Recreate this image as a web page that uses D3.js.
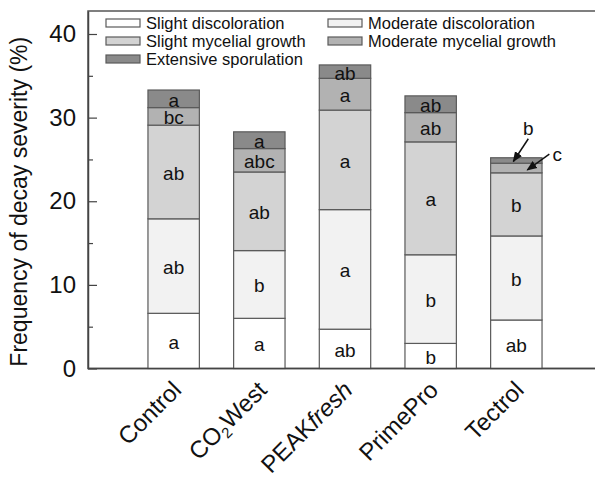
<!DOCTYPE html>
<html>
<head>
<meta charset="utf-8">
<script src="https://cdn.jsdelivr.net/npm/d3@7"></script>
<style>
  html, body { margin: 0; padding: 0; background: #fff; }
  svg { display: block; font-family: "Liberation Sans", Arial, sans-serif; }
</style>
</head>
<body>
<svg id="chart" width="595" height="477"></svg>
<script>
// ---- data ----
const categories = ["Control", "CO2West", "PEAKfresh", "PrimePro", "Tectrol"];
const seriesNames = ["Slight discoloration", "Moderate discoloration", "Slight mycelial growth", "Moderate mycelial growth", "Extensive sporulation"];
const slightDiscoloration   = [6.6, 6.0, 4.7, 3.0, 5.8];
const moderateDiscoloration = [11.3, 8.1, 14.3, 10.6, 10.05];
const slightMycelial        = [11.2, 9.4, 11.9, 13.5, 7.55];
const moderateMycelial      = [2.1, 2.8, 3.8, 3.5, 1.15];
const extensiveSporulation  = [2.1, 2.0, 1.6, 2.0, 0.65];
const letters = [
  ["a", "ab", "ab", "bc", "a"],
  ["a", "b", "ab", "abc", "a"],
  ["ab", "a", "a", "a", "ab"],
  ["b", "b", "a", "ab", "ab"],
  ["ab", "b", "b", "", ""]
];
const yTicks = [0, 10, 20, 30, 40];
const yMinorTicks = [5, 15, 25, 35];
const fills = ["#ffffff", "#f2f2f2", "#d3d3d3", "#b2b2b2", "#8a8a8a"];

const series = [slightDiscoloration, moderateDiscoloration, slightMycelial, moderateMycelial, extensiveSporulation];

const svg = d3.select("#chart");
const pL = 88, pT = 11, pB = 368.5, pR = 602;

const x = d3.scaleLinear().domain([0, categories.length + 1]).range([pL, pR]);
const y = d3.scaleLinear().domain([0, 42.75]).range([pB, pT]);
const barW = (x(1) - x(0)) * 0.6;

// frame
svg.append("rect").attr("x", pL).attr("y", pT).attr("width", pR - pL).attr("height", pB - pT)
  .attr("fill", "none").attr("stroke", "#555").attr("stroke-width", 1.5);

// stacked bars
const stackData = categories.map((c, i) => {
  const o = { cat: c, i: i };
  seriesNames.forEach((s, k) => { o[s] = series[k][i]; });
  return o;
});
const stacked = d3.stack().keys(seriesNames)(stackData);

const g = svg.append("g");
stacked.forEach((layer, k) => {
  g.selectAll(null).data(layer).enter().append("rect")
    .attr("x", d => x(d.data.i + 1) - barW / 2)
    .attr("width", barW)
    .attr("y", d => y(d[1]))
    .attr("height", d => y(d[0]) - y(d[1]))
    .attr("fill", fills[k])
    .attr("stroke", "#5a5a5a")
    .attr("stroke-width", 1.2);
});
stacked.forEach((layer, k) => {
  g.selectAll(null).data(layer).enter().append("text")
    .attr("x", d => x(d.data.i + 1))
    .attr("y", d => (y(d[0]) + y(d[1])) / 2 + 1.5)
    .attr("text-anchor", "middle")
    .attr("dominant-baseline", "central")
    .attr("font-size", 19)
    .attr("fill", "#111")
    .text(d => letters[d.data.i][k]);
});

// Tectrol annotations with arrows
const defs = svg.append("defs");
defs.append("marker").attr("id", "arr").attr("viewBox", "0 0 10 10").attr("refX", 9).attr("refY", 5)
  .attr("markerWidth", 7).attr("markerHeight", 7).attr("orient", "auto")
  .append("path").attr("d", "M0,1 L10,5 L0,9 Z").attr("fill", "#111");
const ti = 4;
const tx = x(ti + 1);
const topSpor = stacked[4][ti], topMod = stacked[3][ti];
svg.append("text").attr("x", tx + 12).attr("y", y(topSpor[1]) - 29).attr("text-anchor", "middle")
  .attr("dominant-baseline", "central").attr("font-size", 19).attr("fill", "#111").text("b");
svg.append("line").attr("x1", tx + 12).attr("y1", y(topSpor[1]) - 19)
  .attr("x2", tx - 3).attr("y2", (y(topSpor[0]) + y(topSpor[1])) / 2 + 1)
  .attr("stroke", "#111").attr("stroke-width", 1.5).attr("marker-end", "url(#arr)");
svg.append("text").attr("x", tx + 41).attr("y", y(topMod[1]) - 9).attr("text-anchor", "middle")
  .attr("dominant-baseline", "central").attr("font-size", 19).attr("fill", "#111").text("c");
svg.append("line").attr("x1", tx + 33).attr("y1", y(topMod[1]) - 9)
  .attr("x2", tx + 11).attr("y2", (y(topMod[0]) + y(topMod[1])) / 2 + 2)
  .attr("stroke", "#111").attr("stroke-width", 1.5).attr("marker-end", "url(#arr)");

// y axis ticks (inside)
const yAxis = d3.axisLeft(y).tickValues(yTicks).tickSizeInner(-9).tickSizeOuter(0).tickPadding(12).tickFormat(d3.format("d"));
const ya = svg.append("g").attr("transform", `translate(${pL},0)`).call(yAxis);
ya.select(".domain").attr("stroke", "#444").attr("stroke-width", 1.5);
ya.selectAll(".tick line").attr("stroke", "#444").attr("stroke-width", 1.2);
ya.selectAll(".tick text").attr("font-size", 24).attr("fill", "#111")
  .attr("font-family", "Liberation Sans, Arial, sans-serif");
const yMinor = d3.axisLeft(y).tickValues(yMinorTicks).tickSizeInner(-5).tickSizeOuter(0).tickFormat("");
const ym = svg.append("g").attr("transform", `translate(${pL},0)`).call(yMinor);
ym.select(".domain").remove();
ym.selectAll(".tick line").attr("stroke", "#444").attr("stroke-width", 1.2);

// x axis line
svg.append("line").attr("x1", pL).attr("x2", pR).attr("y1", pB).attr("y2", pB)
  .attr("stroke", "#444").attr("stroke-width", 1.5);

// x labels rotated
categories.forEach((c, i) => {
  const t = svg.append("text")
    .attr("transform", `translate(${x(i + 1) + 9},${pB + 23}) rotate(-45)`)
    .attr("text-anchor", "end").attr("font-size", 24).attr("fill", "#111");
  if (c === "CO2West") {
    t.append("tspan").text("CO");
    t.append("tspan").attr("font-size", 15).attr("dy", 5).text("2");
    t.append("tspan").attr("dy", -5).text("West");
  } else if (c === "PEAKfresh") {
    t.append("tspan").text("PEAK");
    t.append("tspan").attr("font-style", "italic").text("fresh");
  } else {
    t.text(c);
  }
});

// y title
svg.append("text").attr("transform", `translate(27,${(pT + pB) / 2 + 12}) rotate(-90)`)
  .attr("text-anchor", "middle").attr("font-size", 23).attr("fill", "#111")
  .text("Frequency of decay severity (%)");

// legend
const legPos = [[106, 23], [328, 23], [106, 41], [328, 41], [106, 59]];
seriesNames.forEach((s, k) => {
  const [lx, ly] = legPos[k];
  svg.append("rect").attr("x", lx).attr("y", ly - 4).attr("width", 34).attr("height", 8)
    .attr("fill", fills[k]).attr("stroke", "#5a5a5a").attr("stroke-width", 1.2);
  svg.append("text").attr("x", lx + 40).attr("y", ly).attr("dominant-baseline", "central")
    .attr("font-size", 16.5).attr("fill", "#111").text(s);
});
</script>
</body>
</html>
